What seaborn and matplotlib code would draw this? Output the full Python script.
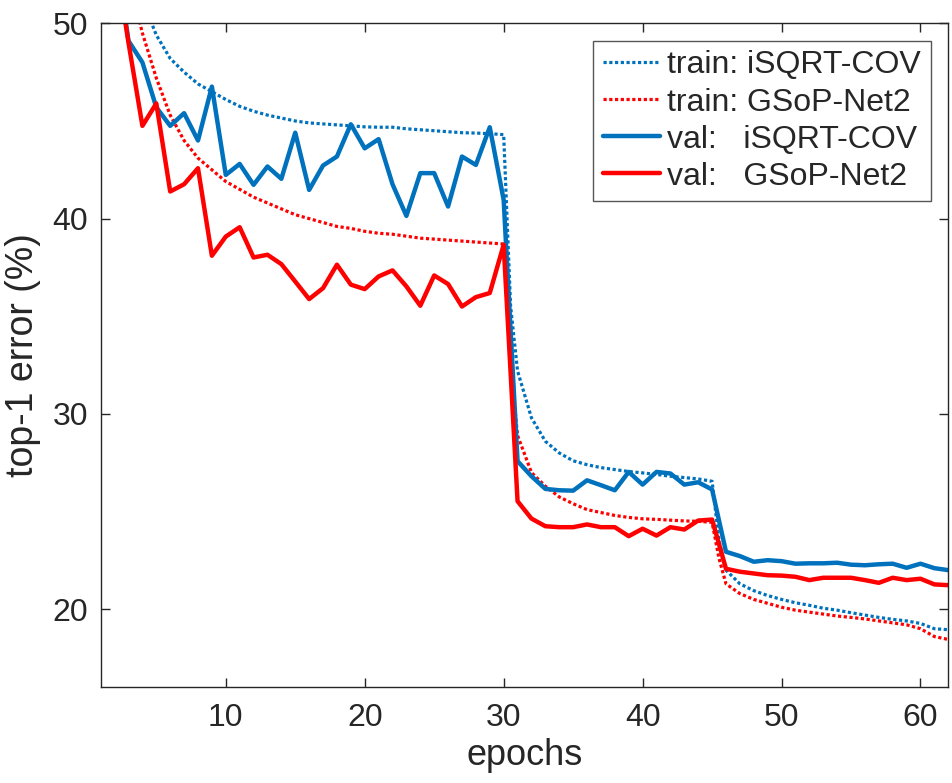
import numpy as np
import pandas as pd
import matplotlib
matplotlib.use('Agg')
import matplotlib.pyplot as plt
import seaborn as sns

# epochs for the validation curves
val_epochs = list(range(1, 63))

val_isqrt = [62.0, 54.0, 49.1, 48.0, 45.7, 44.75, 45.4, 44.0, 46.76, 42.24,
             42.8, 41.73, 42.67, 42.04, 44.4, 41.47, 42.72, 43.18, 44.83, 43.6,
             44.07, 41.76, 40.14, 42.33, 42.33, 40.62, 43.18, 42.75, 44.68, 40.96,
             27.58, 26.81, 26.16, 26.09, 26.07, 26.6, 26.35, 26.09, 27.03, 26.38,
             27.03, 26.95, 26.38, 26.5, 26.13, 22.94, 22.72, 22.43, 22.51, 22.46,
             22.33, 22.35, 22.35, 22.38, 22.28, 22.25, 22.3, 22.33, 22.12, 22.33,
             22.1, 22.0]

val_gsop = [60.0, 53.6, 49.0, 44.75, 45.9, 41.39, 41.76, 42.58, 38.1, 39.08,
            39.56, 38.01, 38.15, 37.67, 36.78, 35.88, 36.44, 37.64, 36.62, 36.39,
            37.04, 37.35, 36.53, 35.54, 37.09, 36.65, 35.5, 35.98, 36.19, 38.66,
            25.53, 24.64, 24.25, 24.2, 24.2, 24.34, 24.2, 24.2, 23.74, 24.12,
            23.77, 24.2, 24.08, 24.54, 24.59, 22.07, 21.92, 21.83, 21.74, 21.72,
            21.66, 21.49, 21.61, 21.61, 21.61, 21.49, 21.35, 21.61, 21.49, 21.56,
            21.27, 21.23]

# training curves are logged a bit more often around the lr drops
train_epochs = list(range(1, 31)) + [30.5] + list(range(31, 46)) + [45.5] + list(range(46, 63))

train_isqrt = [70.0, 60.0, 54.5, 51.2, 49.4, 48.2, 47.5, 46.9, 46.5, 46.1,
               45.75, 45.5, 45.3, 45.15, 45.0, 44.9, 44.85, 44.8, 44.75, 44.7,
               44.68, 44.68, 44.6, 44.55, 44.5, 44.45, 44.4, 44.38, 44.35, 44.3,
               35.5,
               32.2, 29.8, 28.6, 28.0, 27.6, 27.4, 27.25, 27.15, 27.05, 26.98,
               26.9, 26.81, 26.74, 26.67, 26.55,
               23.5,
               22.0, 21.3, 20.95, 20.7, 20.5, 20.33, 20.2, 20.05, 19.95, 19.82,
               19.7, 19.58, 19.48, 19.4, 19.27, 19.0, 18.95]

train_gsop = [68.0, 58.0, 52.4, 49.5, 47.2, 45.3, 44.0, 43.1, 42.5, 41.9,
              41.5, 41.1, 40.8, 40.5, 40.2, 40.0, 39.8, 39.6, 39.5, 39.35,
              39.25, 39.2, 39.1, 39.0, 38.95, 38.9, 38.85, 38.8, 38.75, 38.7,
              32.5,
              28.9, 27.0, 26.3, 25.75, 25.4, 25.1, 24.95, 24.8, 24.7, 24.63,
              24.6, 24.56, 24.52, 24.5, 24.45,
              22.6,
              21.3, 20.8, 20.5, 20.3, 20.1, 19.95, 19.85, 19.75, 19.65, 19.58,
              19.5, 19.4, 19.3, 19.2, 19.0, 18.6, 18.45]

labels = ['train: iSQRT-COV', 'train: GSoP-Net2', 'val:   iSQRT-COV', 'val:   GSoP-Net2']
blue = '#0072BD'
red = '#FF0000'

sns.set_style('ticks')
plt.rcParams['font.family'] = ['Liberation Sans', 'DejaVu Sans']

fig = plt.figure(figsize=(9.52, 7.83), dpi=100)
ax = fig.add_axes([0.1058, 0.1222, 0.8903, 0.848])

train_df = pd.DataFrame({'epoch': train_epochs, 'isqrt': train_isqrt, 'gsop': train_gsop})
val_df = pd.DataFrame({'epoch': val_epochs, 'isqrt': val_isqrt, 'gsop': val_gsop})

dot = (0, (1, 0.8))
sns.lineplot(data=train_df, x='epoch', y='isqrt', color=blue, linewidth=2.3,
             linestyle=dot, label=labels[0], ax=ax)
sns.lineplot(data=train_df, x='epoch', y='gsop', color=red, linewidth=2.3,
             linestyle=dot, label=labels[1], ax=ax)
sns.lineplot(data=val_df, x='epoch', y='isqrt', color=blue, linewidth=3.2,
             label=labels[2], ax=ax)
sns.lineplot(data=val_df, x='epoch', y='gsop', color=red, linewidth=3.2,
             label=labels[3], ax=ax)

ax.set_xlim(1, 62)
ax.set_ylim(16, 50)
ax.set_xticks([10, 20, 30, 40, 50, 60])
ax.set_yticks([20, 30, 40, 50])
ax.tick_params(direction='in', length=6.5, width=1, top=True, right=True,
               labelsize=23, colors='#262626', pad=9)
ax.tick_params(axis='x', pad=11)
for sp in ax.spines.values():
    sp.set_color('#262626')
    sp.set_linewidth(1)

ax.set_xlabel('epochs', fontsize=26, color='#262626', labelpad=4)
ax.set_ylabel('top-1 error (%)', fontsize=27, color='#262626', labelpad=8)

leg = ax.legend(loc='upper right', fontsize=23, frameon=True, fancybox=False,
                handlelength=1.8, handletextpad=0.22, labelspacing=0.22,
                borderpad=0.3, borderaxespad=0.55)
leg.get_frame().set_edgecolor('#555555')
leg.get_frame().set_linewidth(1)
leg.get_frame().set_alpha(1)

fig.savefig('out.png', dpi=100)
